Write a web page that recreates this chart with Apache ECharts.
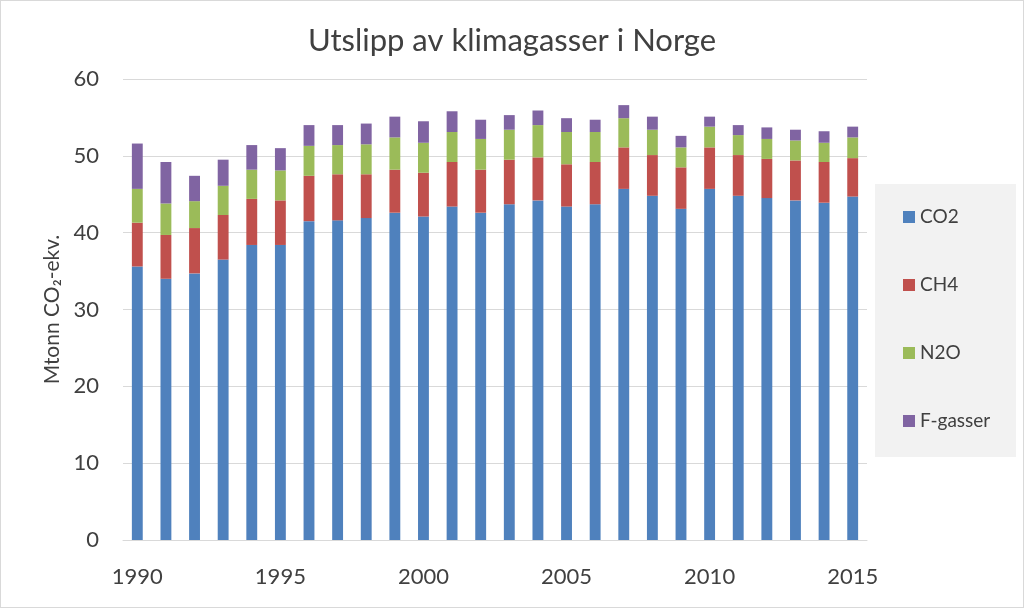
<!DOCTYPE html>
<html>
<head>
<meta charset="utf-8">
<script src="https://cdn.jsdelivr.net/npm/echarts@6/dist/echarts.min.js"></script>
<style>
html,body{margin:0;padding:0;background:#fff;}
#c{width:1024px;height:608px;box-sizing:border-box;border:1px solid #d9d9d9;}
</style>
</head>
<body>
<div id="c"></div>
<script>
const years = ['1990','1991','1992','1993','1994','1995','1996','1997','1998','1999','2000','2001','2002','2003','2004','2005','2006','2007','2008','2009','2010','2011','2012','2013','2014','2015'];
const co2 = [35.6,34.0,34.7,36.5,38.4,38.4,41.5,41.6,41.9,42.6,42.1,43.4,42.6,43.7,44.2,43.4,43.7,45.7,44.8,43.1,45.7,44.8,44.5,44.2,43.9,44.7];
const ch4 = [5.7,5.7,5.9,5.8,6.0,5.8,5.9,6.0,5.7,5.6,5.7,5.8,5.6,5.8,5.6,5.5,5.5,5.4,5.3,5.4,5.4,5.3,5.1,5.2,5.3,5.0];
const n2o = [4.4,4.1,3.5,3.8,3.8,3.9,3.9,3.8,3.9,4.2,3.9,3.9,4.0,3.9,4.2,4.2,3.9,3.8,3.3,2.6,2.7,2.6,2.6,2.6,2.5,2.7];
const fgas = [5.9,5.4,3.3,3.4,3.2,2.9,2.7,2.6,2.7,2.7,2.8,2.7,2.5,1.9,1.9,1.8,1.6,1.7,1.7,1.5,1.3,1.3,1.5,1.4,1.5,1.4];
const seriesNames = ['CO2','CH4','N2O','F-gasser'];
const colors = ['#4f81bd','#c0504d','#9bbb59','#8064a2'];

const chart = echarts.init(document.getElementById('c'));
const font = 'Lato, "Open Sans", sans-serif';
const mk = (name, data, i) => ({
  name, type:'bar', stack:'t', data, barWidth:'38%',
  itemStyle:{color:colors[i]}
});
chart.setOption({
  animation:false,
  textStyle:{fontFamily:font},
  title:{text:'Utslipp av klimagasser i Norge', left:'center', top:19,
    textStyle:{fontSize:31, fontWeight:'normal', color:'#404040', fontFamily:font}},
  graphic:[{type:'rect', left:874, top:183, shape:{width:141, height:273}, style:{fill:'#f2f2f2'}, z:-1}],
  legend:{orient:'vertical', left:902, top:205, padding:0, itemWidth:12, itemHeight:12, itemGap:46,
    icon:'rect', data:seriesNames,
    textStyle:{fontSize:19, color:'#404040', fontFamily:font, lineHeight:22}},
  grid:{left:122, right:156, top:78, bottom:67},
  xAxis:{type:'category', data:years,
    axisTick:{show:false},
    axisLine:{lineStyle:{color:'#d9d9d9'}},
    axisLabel:{interval:4, fontSize:22, color:'#404040', margin:26, fontFamily:font}},
  yAxis:{type:'value', min:0, max:60, interval:10,
    name:'Mtonn CO₂-ekv.', nameLocation:'middle', nameGap:58,
    nameTextStyle:{fontSize:21, color:'#404040', fontFamily:font},
    axisLabel:{fontSize:22, color:'#404040', margin:24, fontFamily:font},
    splitLine:{lineStyle:{color:'#d9d9d9'}}},
  series:[mk('CO2',co2,0), mk('CH4',ch4,1), mk('N2O',n2o,2), mk('F-gasser',fgas,3)]
});
</script>
</body>
</html>
